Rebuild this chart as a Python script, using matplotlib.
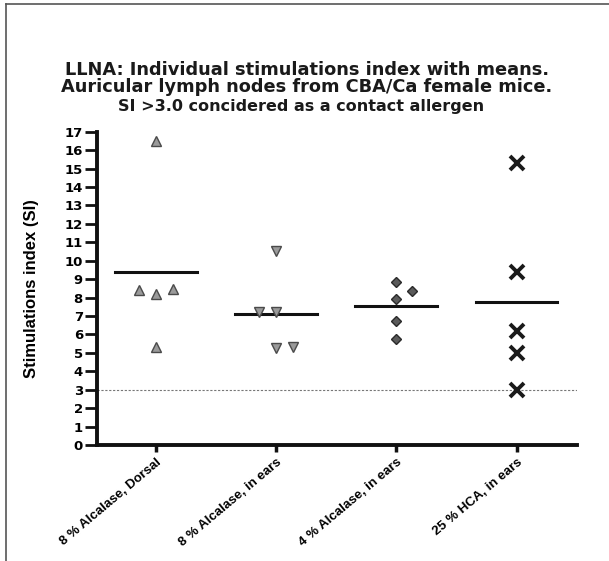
import numpy as np
import matplotlib
matplotlib.use('Agg')
import matplotlib.pyplot as plt
from matplotlib.lines import Line2D

plt.rcParams['font.family'] = ['Liberation Sans', 'DejaVu Sans']

# dados
grupos = ['8 % Alcalase, Dorsal', '8 % Alcalase, in ears',
          '4 % Alcalase, in ears', '25 % HCA, in ears']
si_dorsal_8 = [16.5, 8.4, 8.2, 8.45, 5.3]
si_orelha_8 = [10.5, 7.2, 7.2, 5.25, 5.3]
si_orelha_4 = [8.85, 8.36, 7.91, 6.71, 5.75]
si_hca_25 = [15.28, 9.36, 6.17, 5.01, 3.0]
limite_si = 3.0
yticks = list(range(0, 18))

# deslocamento horizontal dos pontos (como no grafico original)
desloc = [[0, -0.14, 0, 0.14, 0],
          [0, -0.14, 0, 0, 0.14],
          [0, 0.13, 0, 0, 0],
          [0, 0, 0, 0, 0]]

estilos = [dict(marker='^', ms=7, mfc='#9a9a9a', mec='#4a4a4a', mew=1.0),
           dict(marker='v', ms=7, mfc='#9a9a9a', mec='#4a4a4a', mew=1.0),
           dict(marker='D', ms=5.5, mfc='#5a5a5a', mec='#2a2a2a', mew=1.0),
           dict(marker='x', ms=10, mfc='none', mec='#1a1a1a', mew=2.8)]

fig = plt.figure(figsize=(6.09, 5.61), dpi=100)
ax = fig.add_axes([0.159, 0.2068, 0.788, 0.5585])

dados = [si_dorsal_8, si_orelha_8, si_orelha_4, si_hca_25]
for i, (vals, dx, est) in enumerate(zip(dados, desloc, estilos)):
    xs = i + np.array(dx)
    ax.plot(xs, vals, linestyle='none', **est, zorder=3)
    media = np.mean(vals)
    ax.plot([i - 0.34, i + 0.34], [media, media], color='#111111', lw=2.2, zorder=2)

ax.axhline(limite_si, color='#777777', lw=0.8, ls=(0, (2, 1.5)), zorder=1)

ax.set_xlim(-0.49, 3.5)
ax.set_ylim(0, 17)
ax.set_yticks(yticks)
ax.set_xticks(range(len(grupos)))
ax.set_xticklabels(grupos, rotation=40, ha='right', rotation_mode='anchor',
                   fontsize=9.5, fontweight='bold')
for t in ax.get_yticklabels():
    t.set_fontweight('bold')
    t.set_fontsize(9.5)
    t.set_family('DejaVu Sans')

for s in ['top', 'right']:
    ax.spines[s].set_visible(False)
for s in ['left', 'bottom']:
    ax.spines[s].set_linewidth(2.8)
    ax.spines[s].set_color('#111111')
ax.tick_params(axis='y', length=9, width=2, color='#111111', pad=1)
ax.tick_params(axis='x', length=5, width=2.5, color='#111111', pad=3)

ax.set_ylabel('Stimulations index (SI)', fontsize=12, fontweight='bold',
              family=['Liberation Sans Narrow', 'Liberation Sans'])
ax.yaxis.set_label_coords(-0.12, 0.5)

fig.text(0.504, 1 - 75 / 561, 'LLNA: Individual stimulations index with means.',
         ha='center', va='baseline', fontsize=12.8, fontweight='bold',
         family='DejaVu Sans', color='#1a1a1a')
fig.text(0.504, 1 - 91.5 / 561, 'Auricular lymph nodes from CBA/Ca female mice.',
         ha='center', va='baseline', fontsize=12.8, fontweight='bold',
         family='DejaVu Sans', color='#1a1a1a')
fig.text(0.495, 1 - 111 / 561, 'SI >3.0 concidered as a contact allergen',
         ha='center', va='baseline', fontsize=11.5, fontweight='bold',
         family='DejaVu Sans', color='#1a1a1a')

# moldura
fig.add_artist(Line2D([0.010, 0.010], [0.0, 0.993], color='#555555', lw=1.2))
fig.add_artist(Line2D([0.010, 1.0], [0.993, 0.993], color='#555555', lw=1.2))

fig.savefig('out.png', dpi=100)
